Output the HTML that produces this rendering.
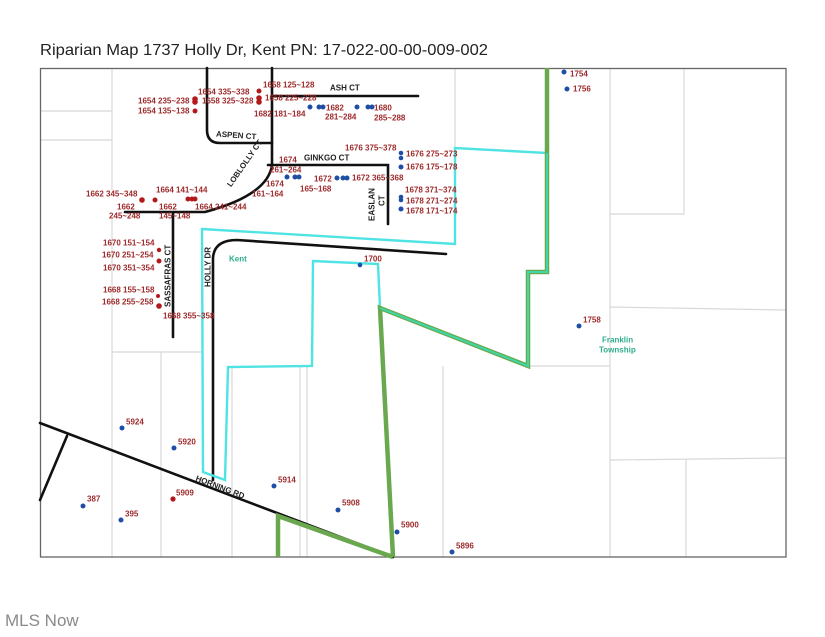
<!DOCTYPE html>
<html><head><meta charset="utf-8"><style>
html,body{margin:0;padding:0;background:#fff;width:825px;height:637px;overflow:hidden}
svg{display:block}
.l{font-family:"Liberation Sans",Arial,sans-serif;font-size:8px;font-weight:bold;fill:#9e2a2b;dominant-baseline:central}
.s{font-family:"Liberation Sans",Arial,sans-serif;font-size:8px;font-weight:bold;fill:#222;dominant-baseline:central}
.t{font-family:"Liberation Sans",Arial,sans-serif;font-size:8px;font-weight:bold;fill:#2fae8c;dominant-baseline:central}
.r{fill:#b3191c}.b{fill:#1f4ea6}
</style></head><body>
<svg width="825" height="637" viewBox="0 0 825 637" xmlns="http://www.w3.org/2000/svg">
<text x="40" y="55" font-family="Liberation Sans,Arial,sans-serif" font-size="16" fill="#222" textLength="448" lengthAdjust="spacingAndGlyphs">Riparian Map 1737 Holly Dr, Kent PN: 17-022-00-00-009-002</text>
<text x="5" y="626" font-family="Liberation Sans,Arial,sans-serif" font-size="17" fill="#8a8a8a">MLS Now</text>
<g stroke="#d8d8d8" stroke-width="1.2" fill="none">
<path d="M112 68V190M40 111H112M112 220V352H202M161 352V557M112 352V557M232 367V557M300 366V557M307 366V557M443 366V557M455 68V148M610 68V557M610 214H684V68M610 307L786 310M527 366H610M610 460L786 458M686 460V557M40 140H112"/>
</g>
<rect x="40.5" y="68.5" width="745.5" height="488.5" fill="none" stroke="#666" stroke-width="1.3"/>
<g stroke="#111" stroke-width="2.6" fill="none" stroke-linecap="round">
<path d="M207 68V130Q207 143 220 143H272"/>
<path d="M272 68V165Q268 195 205 212H125"/>
<path d="M272 96H418"/>
<path d="M268 165H388V224"/>
<path d="M173 213V337"/>
<path d="M213 480V258Q214 240 237 240L446 254"/>
<path d="M40 423L393 557M67 436L40 500"/>
</g>
<g fill="none" stroke-linejoin="miter">
<path d="M202 229L455 244V148L547 153V272H528V366L380 308L378 264L313 261L312 366L228 367L225 480L203 472Z" stroke="#4fe3e3" stroke-width="2.4"/>
<path d="M547 68V272H528V366L380 308L393 557M278 557V516L393 557" stroke="#6aa84f" stroke-width="4.5"/>
<path d="M547 153V272H528V366L380 308" stroke="#3ed8a8" stroke-width="2"/>
</g>
<text class="s" x="330" y="88">ASH CT</text>
<text class="s" x="216" y="134" transform="rotate(4 216 134)">ASPEN CT</text>
<text class="s" x="304" y="158">GINKGO CT</text>
<text class="s" transform="translate(229 186) rotate(-55)">LOBLOLLY CT</text>
<text class="s" transform="translate(372 221) rotate(-90)">EASLAN</text>
<text class="s" transform="translate(382 206) rotate(-90)">CT</text>
<text class="s" transform="translate(168 307) rotate(-90)">SASSAFRAS CT</text>
<text class="s" transform="translate(208 287) rotate(-90)">HOLLY DR</text>
<text class="s" transform="translate(196 478) rotate(21)">HORNING RD</text>
<text class="t" x="229" y="259">Kent</text>
<text class="t" x="602" y="340">Franklin</text>
<text class="t" x="599" y="350">Township</text>
<g class="r">
<circle cx="259" cy="91" r="2.5"/><circle cx="195" cy="99" r="2.8"/><circle cx="195" cy="102" r="2.8"/><circle cx="259" cy="98" r="2.8"/><circle cx="259" cy="102" r="2.8"/><circle cx="195" cy="111" r="2.5"/>
<circle cx="142" cy="200" r="2.8"/><circle cx="155" cy="200" r="2.5"/><circle cx="188" cy="199" r="2.5"/><circle cx="192" cy="199" r="2.5"/><circle cx="195" cy="199" r="2.5"/>
<circle cx="159" cy="250" r="2.2"/><circle cx="159" cy="261" r="2.5"/><circle cx="158" cy="296" r="2"/><circle cx="159" cy="306" r="2.8"/>
<circle cx="173" cy="499" r="2.6"/>
</g>
<g class="b">
<circle cx="310" cy="107" r="2.5"/><circle cx="319" cy="107" r="2.5"/><circle cx="323" cy="107" r="2.5"/><circle cx="357" cy="107" r="2.5"/><circle cx="368" cy="107" r="2.5"/><circle cx="372" cy="107" r="2.5"/>
<circle cx="401" cy="153" r="2.3"/><circle cx="401" cy="158" r="2.3"/><circle cx="401" cy="167" r="2.5"/>
<circle cx="287" cy="177" r="2.5"/><circle cx="295" cy="177" r="2.5"/><circle cx="299" cy="177" r="2.5"/>
<circle cx="337" cy="178" r="2.5"/><circle cx="343" cy="178" r="2.5"/><circle cx="347" cy="178" r="2.5"/>
<circle cx="401" cy="197" r="2.3"/><circle cx="401" cy="200" r="2.3"/><circle cx="401" cy="209" r="2.5"/>
<circle cx="360" cy="265" r="2.3"/><circle cx="564" cy="72" r="2.5"/><circle cx="567" cy="89" r="2.5"/><circle cx="579" cy="326" r="2.5"/>
<circle cx="122" cy="428" r="2.5"/><circle cx="174" cy="448" r="2.5"/><circle cx="274" cy="486" r="2.5"/><circle cx="83" cy="506" r="2.5"/><circle cx="121" cy="520" r="2.5"/><circle cx="338" cy="510" r="2.5"/><circle cx="397" cy="532" r="2.5"/><circle cx="452" cy="552" r="2.5"/>
</g>
<g class="l">
<text class="l" x="263" y="85">1658 125~128</text>
<text class="l" x="198" y="92">1654 335~338</text>
<text class="l" x="138" y="101">1654 235~238</text>
<text class="l" x="202" y="101">1658 325~328</text>
<text class="l" x="265" y="98">1658 225~228</text>
<text class="l" x="138" y="111">1654 135~138</text>
<text class="l" x="254" y="114">1682 181~184</text>
<text class="l" x="326" y="108">1682</text>
<text class="l" x="325" y="117">281~284</text>
<text class="l" x="374" y="108">1680</text>
<text class="l" x="374" y="118">285~288</text>
<text class="l" x="345" y="148">1676 375~378</text>
<text class="l" x="406" y="154">1676 275~273</text>
<text class="l" x="406" y="167">1676 175~178</text>
<text class="l" x="279" y="160">1674</text>
<text class="l" x="270" y="170">261~264</text>
<text class="l" x="266" y="184">1674</text>
<text class="l" x="252" y="194">161~164</text>
<text class="l" x="300" y="189">165~168</text>
<text class="l" x="314" y="179">1672</text>
<text class="l" x="352" y="178">1672 365~368</text>
<text class="l" x="405" y="190">1678 371~374</text>
<text class="l" x="406" y="201">1678 271~274</text>
<text class="l" x="406" y="211">1678 171~174</text>
<text class="l" x="86" y="194">1662 345~348</text>
<text class="l" x="156" y="190">1664 141~144</text>
<text class="l" x="117" y="207">1662</text>
<text class="l" x="109" y="216">245~248</text>
<text class="l" x="159" y="207">1662</text>
<text class="l" x="159" y="216">145~148</text>
<text class="l" x="195" y="207">1664 241~244</text>
<text class="l" x="103" y="243">1670 151~154</text>
<text class="l" x="102" y="255">1670 251~254</text>
<text class="l" x="103" y="268">1670 351~354</text>
<text class="l" x="103" y="290">1668 155~158</text>
<text class="l" x="102" y="302">1668 255~258</text>
<text class="l" x="163" y="316">1668 355~358</text>
<text class="l" x="364" y="259">1700</text>
<text class="l" x="570" y="74">1754</text>
<text class="l" x="573" y="89">1756</text>
<text class="l" x="583" y="320">1758</text>
<text class="l" x="126" y="422">5924</text>
<text class="l" x="178" y="442">5920</text>
<text class="l" x="278" y="480">5914</text>
<text class="l" x="176" y="493">5909</text>
<text class="l" x="87" y="499">387</text>
<text class="l" x="125" y="514">395</text>
<text class="l" x="342" y="503">5908</text>
<text class="l" x="401" y="525">5900</text>
<text class="l" x="456" y="546">5896</text>
</g>
</svg>
</body></html>
